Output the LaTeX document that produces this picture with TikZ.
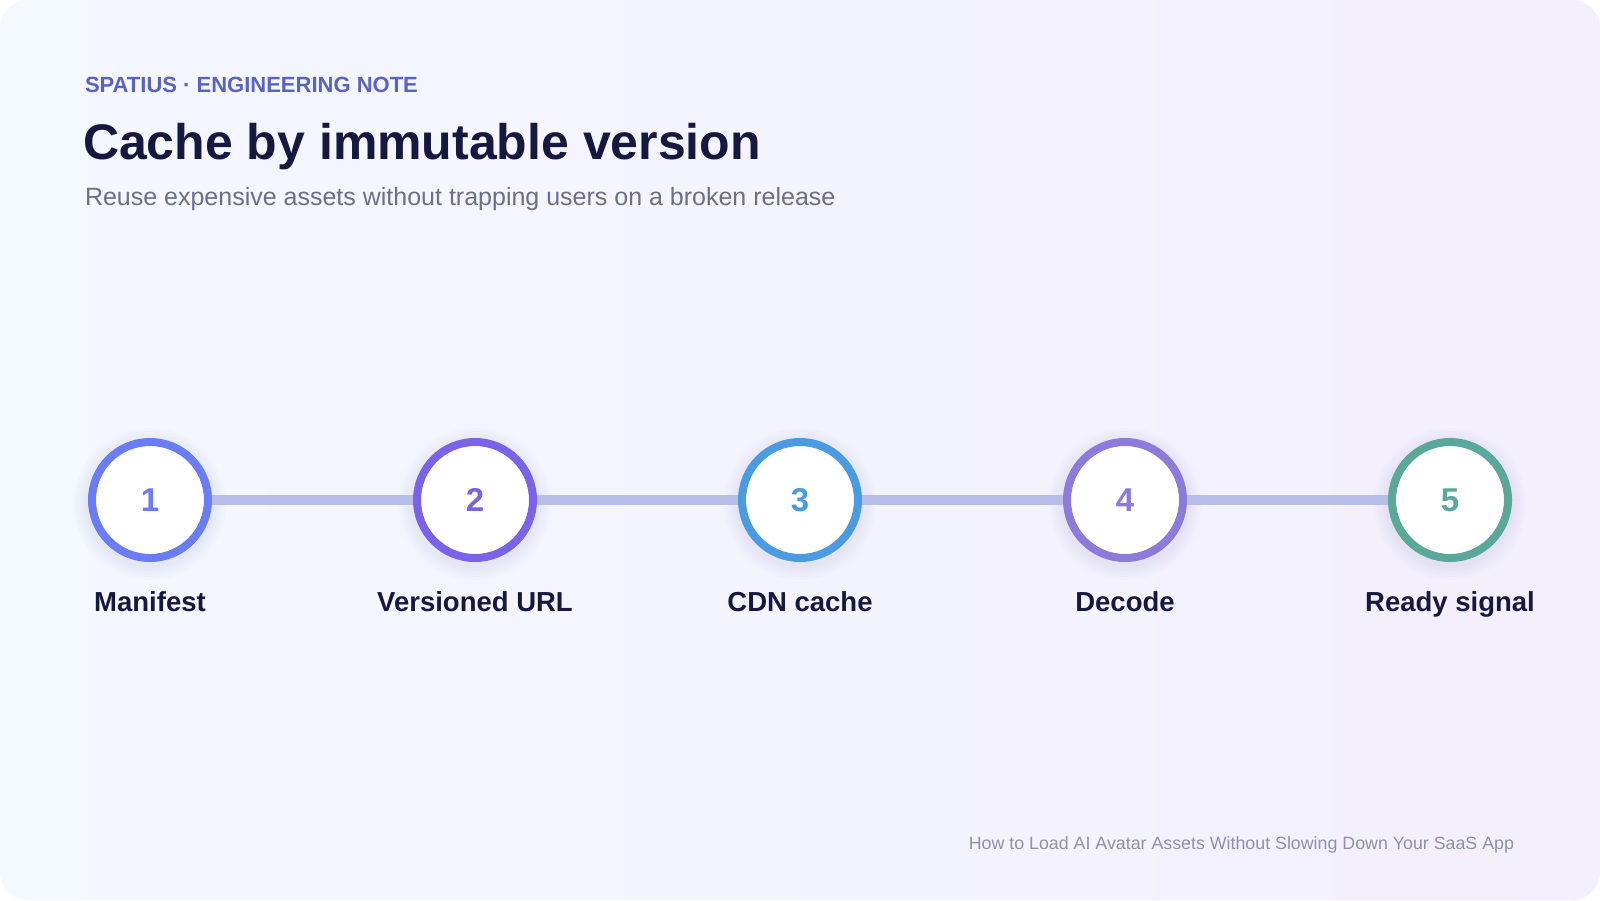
\documentclass[tikz,border=0pt]{standalone}
\usepackage{fontspec}
\setmainfont{Liberation Sans}

\definecolor{bgtop}{HTML}{F4F8FF}
\definecolor{bgbot}{HTML}{F3EFFC}
\definecolor{kicker}{HTML}{5A63C3}
\definecolor{ink}{HTML}{17183F}
\definecolor{muted}{HTML}{6B6F88}
\definecolor{faint}{HTML}{8E92A8}
\definecolor{linkcol}{HTML}{B7BDE9}
\definecolor{glowcol}{HTML}{9EA2D8}
\definecolor{cone}{HTML}{6A7CF6}
\definecolor{ctwo}{HTML}{7A63E8}
\definecolor{cthree}{HTML}{4A9BE2}
\definecolor{cfour}{HTML}{8C7BDA}
\definecolor{cfive}{HTML}{5AA899}

\begin{document}
\begin{tikzpicture}[
		x=1pt, y=-1pt,
		every node/.style={inner sep=0pt, outer sep=0pt},
		stepnode/.style={circle, draw=#1, text=#1, line width=8pt, fill=white, outer sep=4pt,
			minimum size=116pt, font=\fontsize{33}{33}\selectfont\bfseries},
		steplabel/.style={anchor=base, text=ink, font=\fontsize{27.5}{30}\selectfont\bfseries},
		link/.style={line width=10pt, draw=linkcol},
		glow/.style={fill=glowcol, opacity=0.035}
	]
  % card
  \useasboundingbox (0,0) rectangle (1600,900);
  \fill[white] (0,0) rectangle (1600,900);
  \shade[rounded corners=28pt, left color=bgtop, right color=bgbot] (0,0) rectangle (1600,900);

  % heading
  \node (kicker) [anchor=base west, text=kicker, font=\fontsize{22}{24}\selectfont\bfseries] at (85, 92) {SPATIUS · ENGINEERING NOTE};
  \node (title) [anchor=base west, text=ink, font=\fontsize{50}{56}\selectfont\bfseries] at (83, 159) {Cache by immutable version};
  \node (subtitle) [anchor=base west, text=muted, font=\fontsize{25}{28}\selectfont] at (85, 205) {Reuse expensive assets without trapping users on a broken release};

  % soft glow under the steps
  \foreach \x in {150, 475, 800, 1125, 1450} {
    \foreach \r in {64, 67, 70, 73, 76}
      \fill[glow] (\x, 504) circle (\r);
  }

  % steps
  \node (manifest) [stepnode=cone] at (150, 500) {1};
  \node (versioned) [stepnode=ctwo] at (475, 500) {2};
  \node (cdn) [stepnode=cthree] at (800, 500) {3};
  \node (decode) [stepnode=cfour] at (1125, 500) {4};
  \node (ready) [stepnode=cfive] at (1450, 500) {5};

  \draw[link] (manifest) -- (versioned);
  \draw[link] (versioned) -- (cdn);
  \draw[link] (cdn) -- (decode);
  \draw[link] (decode) -- (ready);

  \node (manifest_label) [steplabel] at (150, 611) {Manifest};
  \node (versioned_label) [steplabel] at (475, 611) {Versioned URL};
  \node (cdn_label) [steplabel] at (800, 611) {CDN cache};
  \node (decode_label) [steplabel] at (1125, 611) {Decode};
  \node (ready_label) [steplabel] at (1450, 611) {Ready signal};

  % footer
  \node (source) [anchor=base east, text=faint, font=\fontsize{17.8}{20}\selectfont] at (1514, 849) {How to Load AI Avatar Assets Without Slowing Down Your SaaS App};
\end{tikzpicture}
\end{document}
